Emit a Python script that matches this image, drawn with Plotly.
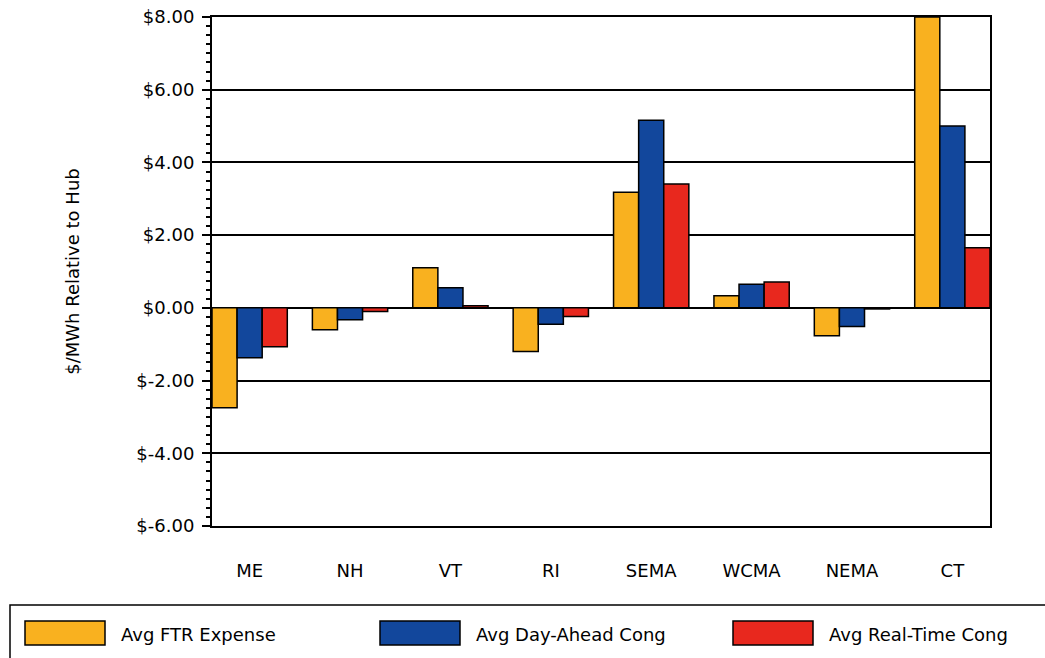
import plotly.graph_objects as go

categories = ["ME", "NH", "VT", "RI", "SEMA", "WCMA", "NEMA", "CT"]
ftr_expense = [-2.75, -0.60, 1.10, -1.20, 3.18, 0.33, -0.77, 8.00]
da_cong = [-1.37, -0.33, 0.55, -0.45, 5.16, 0.65, -0.51, 5.00]
rt_cong = [-1.07, -0.10, 0.06, -0.24, 3.41, 0.71, -0.03, 1.65]
series_names = ["Avg FTR Expense", "Avg Day-Ahead Cong", "Avg Real-Time Cong"]
colors = ["#F9B11F", "#12479C", "#E8281E"]
y_tickvals = [-6, -4, -2, 0, 2, 4, 6, 8]
y_ticktext = ["$-6.00", "$-4.00", "$-2.00", "$0.00", "$2.00", "$4.00", "$6.00", "$8.00"]

W, H = 1045, 658
L, R, T, B = 212, 990, 17, 526
FONT = "DejaVu Sans, Liberation Sans, Arial, sans-serif"


def px(x):
    return (x - L) / (R - L)


def py(y):
    return (B - y) / (B - T)


fig = go.Figure()
xs = list(range(len(categories)))
for name, vals, col in zip(series_names, [ftr_expense, da_cong, rt_cong], colors):
    fig.add_trace(go.Bar(
        x=xs, y=vals, name=name,
        marker=dict(color=col, line=dict(color="black", width=1.5)),
        showlegend=False,
    ))

shapes = []
annotations = []
# legend box
shapes.append(dict(type="rect", xref="paper", yref="paper",
                   x0=px(10), x1=px(1050), y0=py(662), y1=py(605),
                   line=dict(color="black", width=1.5), fillcolor="white", layer="below"))
sw_x = [25, 380, 733]
for name, col, sx in zip(series_names, colors, sw_x):
    shapes.append(dict(type="rect", xref="paper", yref="paper",
                       x0=px(sx), x1=px(sx + 80), y0=py(645), y1=py(621),
                       line=dict(color="black", width=1.5), fillcolor=col))
    annotations.append(dict(xref="paper", yref="paper", x=px(sx + 94), y=py(634),
                            text=name, showarrow=False, xanchor="left", yanchor="middle",
                            font=dict(size=18, color="black")))

fig.update_layout(
    width=W, height=H,
    margin=dict(l=L, r=W - R, t=T, b=H - B, autoexpand=False),
    paper_bgcolor="white", plot_bgcolor="white",
    font=dict(family=FONT, size=18, color="black"),
    barmode="group", bargap=0.25, bargroupgap=0,
    shapes=shapes, annotations=annotations,
    showlegend=False,
)
fig.update_xaxes(
    range=[-0.375, 7.375], tickvals=xs, ticktext=categories,
    showline=True, linecolor="black", linewidth=2, mirror=True,
    showgrid=False, zeroline=False, ticks="", ticklabelstandoff=27,
)
fig.update_yaxes(
    range=[-6, 8], tickvals=y_tickvals, ticktext=y_ticktext,
    showline=True, linecolor="black", linewidth=2, mirror=True,
    showgrid=True, gridcolor="black", gridwidth=1.5,
    zeroline=True, zerolinecolor="black", zerolinewidth=2,
    ticks="outside", ticklen=8, tickwidth=2, tickcolor="black",
    ticklabelstandoff=4,
    minor=dict(dtick=0.25, ticks="outside", ticklen=4, tickwidth=1.5, tickcolor="black", showgrid=False),
    title=dict(text="$/MWh Relative to Hub", standoff=52, font=dict(size=18)),
)

fig.write_html("out.html", post_script="document.body.style.margin='0';",
               config={"displayModeBar": False})
